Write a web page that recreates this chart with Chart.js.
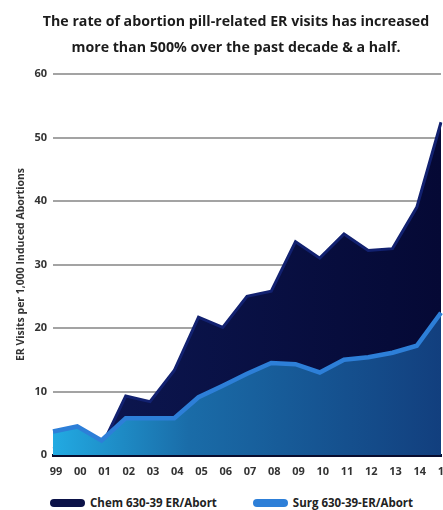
<!DOCTYPE html>
<html>
<head>
<meta charset="utf-8">
<script src="https://cdn.jsdelivr.net/npm/chart.js@4.4.1/dist/chart.umd.min.js"></script>
<style>
  html, body { margin: 0; padding: 0; background: #fff; overflow: hidden; }
  .wrap { position: relative; width: 443px; height: 510px; overflow: hidden; }
  .chart-box { position: absolute; left: 0; top: 0; width: 472px; height: 480px; }
  .legend { position: absolute; left: 50px; top: 495px; display: flex; align-items: center;
            font: bold 11.5px "Open Sans", sans-serif; color: #222; white-space: nowrap; }
  .legend-item { display: flex; align-items: center; }
  .legend-item + .legend-item { margin-left: 36px; }
  .swatch { width: 35px; height: 8px; border-radius: 4px; margin-right: 5px; }
</style>
</head>
<body>
<div class="wrap">
  <div class="chart-box"><canvas id="erChart"></canvas></div>
  <div class="legend" id="erLegend"></div>
</div>
<script>
const years = ["99", "00", "01", "02", "03", "04", "05", "06", "07", "08", "09", "10", "11", "12", "13", "14", "15"];
const chemRate = [1.0, 1.5, 1.3, 9.3, 8.4, 13.3, 21.7, 20.1, 25.0, 25.8, 33.6, 31.0, 34.8, 32.2, 32.5, 39.0, 52.4];
const surgRate = [3.7, 4.5, 2.3, 5.8, 5.8, 5.8, 9.1, 10.9, 12.8, 14.5, 14.3, 13.0, 15.0, 15.4, 16.1, 17.2, 22.4];
const yTicks = [0, 10, 20, 30, 40, 50, 60];
const seriesNames = ["Chem 630-39 ER/Abort", "Surg 630-39-ER/Abort"];

const FONT = "'Open Sans', sans-serif";

function hGradient(stops) {
  return ctx => {
    const area = ctx.chart.chartArea;
    if (!area) return stops[0][1];
    const g = ctx.chart.ctx.createLinearGradient(area.left, 0, area.right, 0);
    stops.forEach(([pos, color]) => g.addColorStop(pos, color));
    return g;
  };
}

const chemColor = "#0b1248";
const surgColor = "#2d7fd8";

const erChart = new Chart(document.getElementById("erChart"), {
  type: "line",
  data: {
    labels: years,
    datasets: [
      {
        label: seriesNames[0],
        data: chemRate,
        order: 2,
        fill: "origin",
        borderColor: "#122170",
        borderWidth: 3,
        backgroundColor: hGradient([[0, "#0d1853"], [1, "#050935"]]),
        pointRadius: 0,
        tension: 0
      },
      {
        label: seriesNames[1],
        data: surgRate,
        order: 1,
        fill: "origin",
        borderColor: surgColor,
        borderWidth: 4.5,
        backgroundColor: hGradient([[0, "#22aae2"], [0.35, "#1a6ca8"], [1, "#123f7e"]]),
        pointRadius: 0,
        tension: 0
      }
    ]
  },
  options: {
    responsive: true,
    maintainAspectRatio: false,
    animation: false,
    layout: { padding: { left: 31, right: 31, top: 0, bottom: 0 } },
    plugins: {
      legend: { display: false },
      tooltip: { enabled: false },
      title: {
        display: true,
        text: ["The rate of abortion pill-related ER visits has increased",
               "more than 500% over the past decade & a half."],
        color: "#1c1c1c",
        font: { family: FONT, size: 14.2, weight: "bold", lineHeight: "26px" },
        padding: { top: 9, bottom: 13 }
      }
    },
    scales: {
      x: {
        z: 1,
        grid: { display: false, drawTicks: false },
        border: { display: true, color: "#080c2e", width: 3 },
        ticks: {
          color: "#333",
          font: { family: FONT, size: 11, weight: "bold" },
          padding: 10,
          labelOffset: 3,
          maxRotation: 0,
          autoSkip: false
        },
        afterFit: s => { s.height = 25; }
      },
      y: {
        min: yTicks[0],
        max: yTicks[yTicks.length - 1],
        afterBuildTicks: s => { s.ticks = yTicks.map(v => ({ value: v })); },
        grid: { color: "#a3a3a3", lineWidth: 2, drawTicks: false },
        border: { display: false },
        ticks: {
          color: "#333",
          font: { family: FONT, size: 11, weight: "bold" },
          padding: 6
        },
        title: {
          display: true,
          text: "ER Visits per 1,000 Induced Abortions",
          color: "#333",
          font: { family: FONT, size: 10.5, weight: "bold" },
          padding: { top: -16.3, bottom: 0 }
        },
        afterFit: s => { s.width = 22; }
      }
    }
  }
});

const swatchColors = [chemColor, surgColor];
document.getElementById("erLegend").innerHTML = erChart.data.datasets.map((ds, i) => `
  <div class="legend-item">
    <span class="swatch" style="background:${swatchColors[i]}"></span>
    <span>${ds.label}</span>
  </div>
`).join("");
</script>
</body>
</html>
